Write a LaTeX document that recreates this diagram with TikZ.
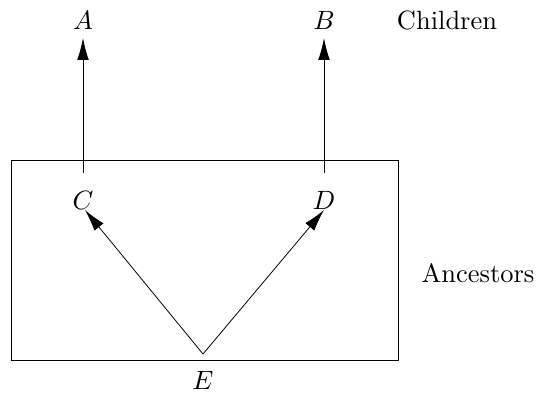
\documentclass[tikz,border=0pt]{standalone}
\usetikzlibrary{arrows.meta}
\begin{document}
\begin{tikzpicture}[x=0.378pt,y=-0.378pt,
  lbl/.style={inner sep=0pt,font=\normalsize},
  conn/.style={-{Latex[length=8.3pt,width=4.4pt]},line width=0.3pt}]
\useasboundingbox (0,0) rectangle (536,393);
\node[draw,line width=0.3pt,minimum width=387*0.378pt,minimum height=200*0.378pt,inner sep=0pt] (box) at (204.5,260) {};
\node[lbl] (A) at (83,20) {$A$};
\node[lbl] (B) at (324,20) {$B$};
\node[lbl] (ch) at (447,20) {Children};
\node[lbl] (C) at (83,200) {$C$};
\node[lbl] (D) at (324,200) {$D$};
\node[lbl] (E) at (203,380) {$E$};
\node[lbl] (an) at (478,273) {Ancestors};
\coordinate (cs) at (83,173);
\coordinate (ds) at (324,173);
\coordinate (at) at (83,38);
\coordinate (bt) at (324,38);
\coordinate (es) at (203,354);
\coordinate (ct) at (85,210);
\coordinate (dt) at (324,210);
\draw[conn] (cs) -- (at);
\draw[conn] (ds) -- (bt);
\draw[conn] (es) -- (ct);
\draw[conn] (es) -- (dt);
\end{tikzpicture}
\end{document}
